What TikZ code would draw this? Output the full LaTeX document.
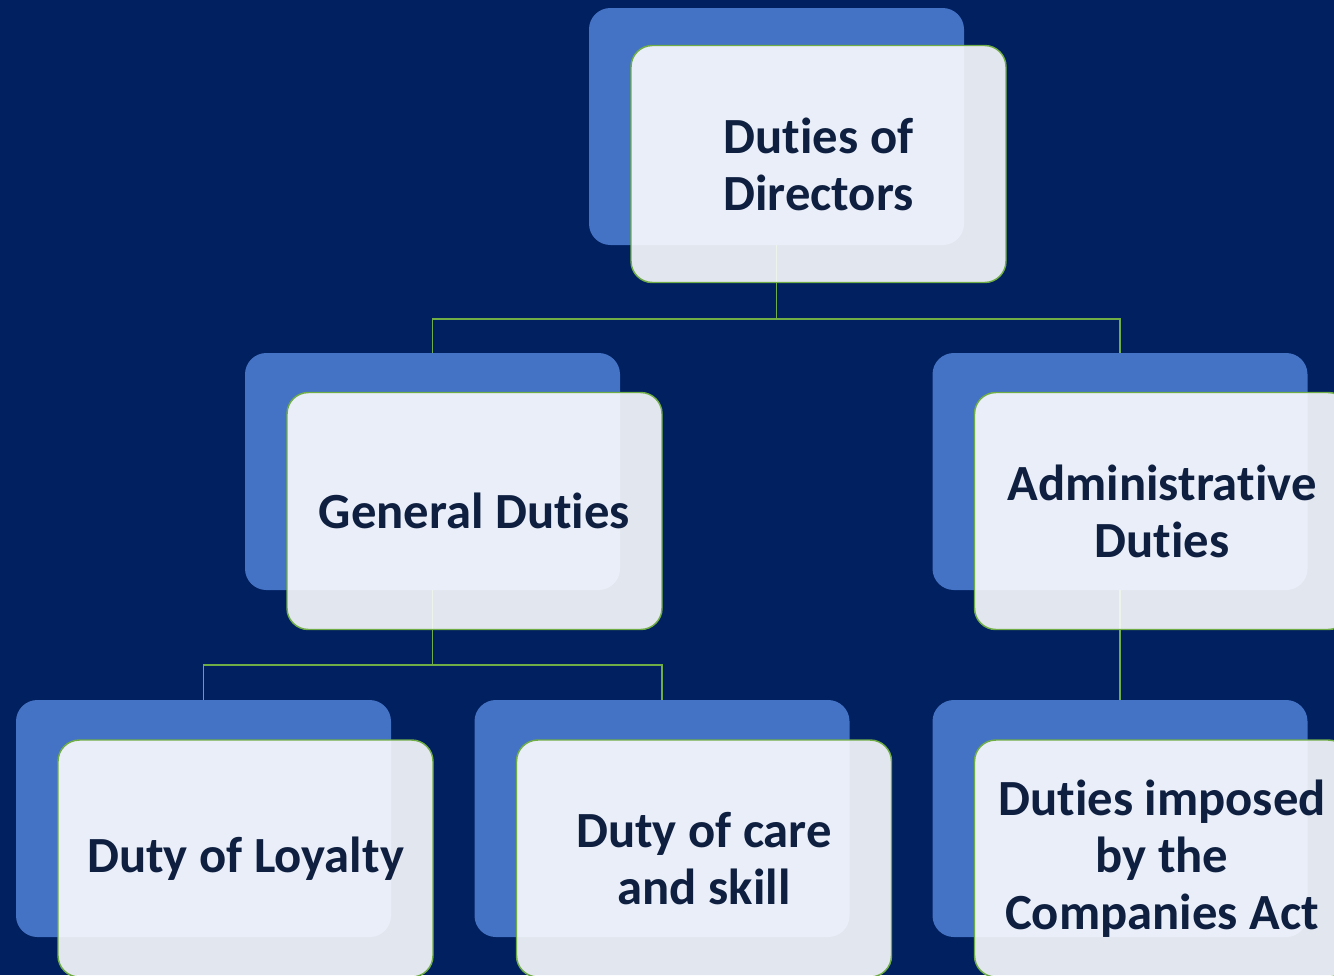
\documentclass[tikz,border=0pt]{standalone}
\usepackage{fontspec}
\setmainfont{Carlito}[RawFeature={-liga;-dlig;-calt;-clig}]
\usepackage{tikz}
\usetikzlibrary{positioning}
\usepackage{xcolor}

\definecolor{navybg}{RGB}{0,32,96}
\definecolor{backblue}{RGB}{68,114,196}
\definecolor{frontfill}{RGB}{251,252,254}
\definecolor{edgegreen}{RGB}{112,173,71}
\definecolor{textnavy}{RGB}{14,31,64}

\tikzset{
  backbox/.style={fill=backblue, rounded corners=16pt, minimum width=281.25pt, minimum height=177.75pt, inner sep=0pt},
  frontbox/.style={fill=frontfill, fill opacity=0.9, text opacity=1, draw=edgegreen, line width=1.1pt, rounded corners=16pt, minimum width=281.25pt, minimum height=177.75pt, inner sep=0pt, align=center, text=textnavy, font=\bfseries\fontsize{38}{42.75}\selectfont},
  link/.style={draw=edgegreen, line width=1.2pt}
}

\begin{document}
\begin{tikzpicture}[x=0.75pt,y=-0.75pt]
\fill[navybg] (0,0) rectangle (1334,975);
\useasboundingbox (0,0) rectangle (1334,975);
% back boxes
\node[backbox] (topB) at (776.5,126.5) {};
\node[backbox] (genB) at (432.5,471.5) {};
\node[backbox] (admB) at (1120,471.5) {};
\node[backbox] (loyB) at (203.5,818.5) {};
\node[backbox] (carB) at (662,818.5) {};
\node[backbox] (actB) at (1120,818.5) {};
% links
\draw[link] (topB.south) -- ++(0,74) -| (genB.north);
\draw[link] (topB.south) -- ++(0,74) -| (admB.north);
\draw[link] (genB.south) -- ++(0,75) -| (loyB.north);
\draw[link] (genB.south) -- ++(0,75) -| (carB.north);
\draw[link] (admB.south) -- (actB.north);
% front boxes
\node[frontbox] (top) at (818.5,164) {Duties of\\Directors};
\node[frontbox] (gen) at (474.5,511) {General Duties};
\node[frontbox] (adm) at (1162,511) {Administrative\\Duties};
\node[frontbox] (loy) at (245.5,858.5) {Duty of Loyalty};
\node[frontbox] (car) at (704,858.5) {Duty of care\\and skill};
\node[frontbox] (act) at (1162,858.5) {Duties imposed\\by the\\Companies Act};
\end{tikzpicture}
\end{document}
